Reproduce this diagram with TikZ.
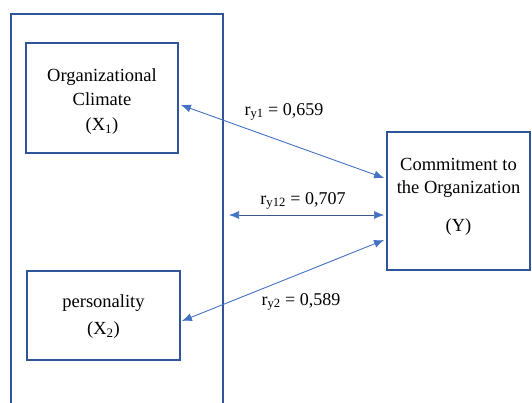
\documentclass[tikz,border=0pt]{standalone}
\usepackage{fontspec}
\setmainfont{Liberation Serif}
\usetikzlibrary{arrows.meta}
\definecolor{boxblue}{HTML}{2F5597}
\definecolor{arrblue}{HTML}{4472C4}
\definecolor{midline}{HTML}{3B5A8C}
\tikzset{
  varbox/.style={draw=boxblue, line width=1.8pt, inner sep=0pt},
  boxtext/.style={align=center, inner sep=0pt, font=\fontsize{18.5}{24.5}\selectfont},
  link/.style={draw=arrblue, line width=0.9pt, {Latex[length=10pt,width=8pt]}-{Latex[length=10pt,width=8pt]}},
  midlink/.style={draw=midline, line width=0.6pt, arrows={Latex[length=10pt,width=8pt,color=arrblue]-Latex[length=10pt,width=8pt,color=arrblue]}},
  coef/.style={font=\fontsize{18}{20}\selectfont, inner sep=1pt}
}
\begin{document}
\begin{tikzpicture}[x=1pt,y=-1pt]
\useasboundingbox (0,0) rectangle (532,403);
\clip (0,0) rectangle (532,403);
% outer frame
\draw[boxblue, line width=1.8pt] (11,410) -- (11,14) -- (223,14) -- (223,410);
% boxes
\node[varbox, minimum width=152pt, minimum height=110pt] (x1) at (102,98) {};
\node[boxtext] (x1t) at (102,101.5) {Organizational\\Climate\\(X\textsubscript{1})};
\node[varbox, minimum width=153pt, minimum height=89pt] (x2) at (103.5,315.5) {};
\node[boxtext, font=\fontsize{18.5}{27}\selectfont] (x2t) at (103.5,316.5) {personality\\(X\textsubscript{2})};
\node[varbox, minimum width=143pt, minimum height=138pt] (y) at (458.5,201) {};
\node[boxtext, font=\fontsize{18.5}{23}\selectfont] (yt) at (458.5,196.5) {Commitment to\\the Organization\\[15pt](Y)};
% coordinates
\coordinate (m) at (229,215);
% connectors
\draw[link] ([xshift=2pt,yshift=-7pt]x1.east) -- ([xshift=-2pt,yshift=23pt]y.west);
\draw[link] ([xshift=1pt,yshift=-5.5pt]x2.east) -- ([xshift=-2pt,yshift=-39pt]y.west);
\draw[midlink] (m) -- ([xshift=-2pt,yshift=-14pt]y.west);
% labels
\node[coef] (l1) at (284,112) {r\textsubscript{y1} = 0,659};
\node[coef] (l2) at (303,201) {r\textsubscript{y12} = 0,707};
\node[coef] (l3) at (301,302) {r\textsubscript{y2} = 0,589};
\end{tikzpicture}
\end{document}
